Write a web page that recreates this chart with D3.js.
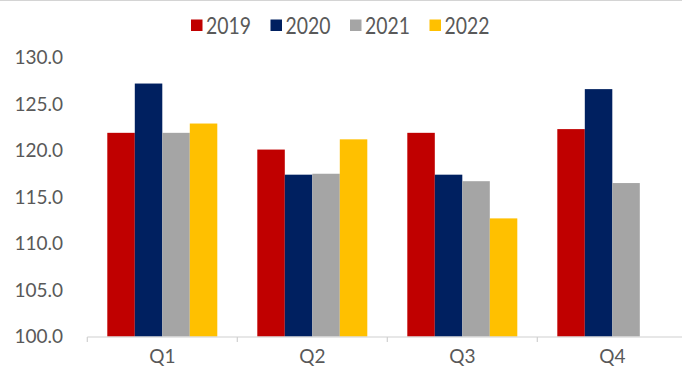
<!DOCTYPE html>
<html>
<head>
<meta charset="utf-8">
<script src="https://cdn.jsdelivr.net/npm/d3@7"></script>
<style>
  html, body { margin: 0; padding: 0; background: #fff; }
  svg { display: block; }
  text { font-family: Lato, "Open Sans", sans-serif; fill: #595959; }
</style>
</head>
<body>
<svg id="chart" width="682" height="368"></svg>
<script>
// Quarterly index values by year
const quarters = ["Q1", "Q2", "Q3", "Q4"];
const years = ["2019", "2020", "2021", "2022"];
const values2019 = [121.9, 120.1, 121.9, 122.3];
const values2020 = [127.2, 117.4, 117.4, 126.6];
const values2021 = [121.9, 117.5, 116.7, 116.5];
const values2022 = [122.9, 121.2, 112.7, null];
const yTicks = [100, 105, 110, 115, 120, 125, 130];
const colors = ["#C00000", "#002060", "#A5A5A5", "#FFC000"];

const seriesValues = [values2019, values2020, values2021, values2022];
const rows = quarters.map((q, i) => ({
  quarter: q,
  bars: years.map((y, j) => ({ year: y, value: seriesValues[j][i], color: colors[j] }))
}));

const svg = d3.select("#chart");

// thin frame line along the top edge
svg.append("line")
  .attr("x1", 0).attr("x2", 682).attr("y1", 0.5).attr("y2", 0.5)
  .attr("stroke", "#d4d4d4").attr("stroke-width", 1);

const x0 = d3.scaleBand()
  .domain(quarters)
  .range([87.3, 687.3])
  .paddingInner(0.2667)
  .paddingOuter(0.1333);

const x1 = d3.scaleBand()
  .domain(years)
  .range([0, x0.bandwidth()]);

const y = d3.scaleLinear()
  .domain([100, 130])
  .range([336.5, 57.5]);

// y tick labels (no axis line, no gridlines)
svg.append("g")
  .selectAll("text")
  .data(yTicks)
  .join("text")
  .attr("x", 63)
  .attr("y", d => y(d))
  .attr("dy", "0.36em")
  .attr("text-anchor", "end")
  .attr("font-size", 19)
  .text(d => d3.format(".1f")(d));

// bars
const groups = svg.append("g")
  .selectAll("g")
  .data(rows)
  .join("g")
  .attr("transform", d => `translate(${x0(d.quarter)},0)`);

groups.selectAll("rect")
  .data(d => d.bars.filter(b => b.value != null))
  .join("rect")
  .attr("x", d => x1(d.year))
  .attr("width", x1.bandwidth())
  .attr("y", d => y(d.value))
  .attr("height", d => y(100) - y(d.value))
  .attr("fill", d => d.color);

// category axis with boundary ticks
const step = x0.step();
const axisG = svg.append("g");
axisG.append("line")
  .attr("x1", x0.range()[0]).attr("x2", x0.range()[1])
  .attr("y1", y(100) + 0.5).attr("y2", y(100) + 0.5)
  .attr("stroke", "#d0d0d0").attr("stroke-width", 1.2);
axisG.selectAll("line.tick")
  .data(d3.range(quarters.length + 1))
  .join("line")
  .attr("class", "tick")
  .attr("x1", i => x0.range()[0] + i * step)
  .attr("x2", i => x0.range()[0] + i * step)
  .attr("y1", y(100) + 0.5)
  .attr("y2", y(100) + 5.5)
  .attr("stroke", "#d0d0d0").attr("stroke-width", 1.2);
axisG.selectAll("text")
  .data(quarters)
  .join("text")
  .attr("x", d => x0(d) + x0.bandwidth() / 2)
  .attr("y", 363)
  .attr("text-anchor", "middle")
  .attr("font-size", 19)
  .text(d => d);

// legend
const legend = svg.append("g");
const legendX = d3.scalePoint().domain(years).range([191, 429.5]);
const items = legend.selectAll("g")
  .data(years.map((yr, j) => ({ year: yr, color: colors[j] })))
  .join("g")
  .attr("transform", d => `translate(${legendX(d.year)},0)`);
items.append("rect")
  .attr("x", 0).attr("y", 19.5)
  .attr("width", 11.5).attr("height", 11.5)
  .attr("fill", d => d.color);
items.append("text")
  .attr("x", 15)
  .attr("y", 34)
  .attr("font-size", 24)
  .attr("textLength", 45)
  .attr("lengthAdjust", "spacingAndGlyphs")
  .text(d => d.year);
</script>
</body>
</html>
